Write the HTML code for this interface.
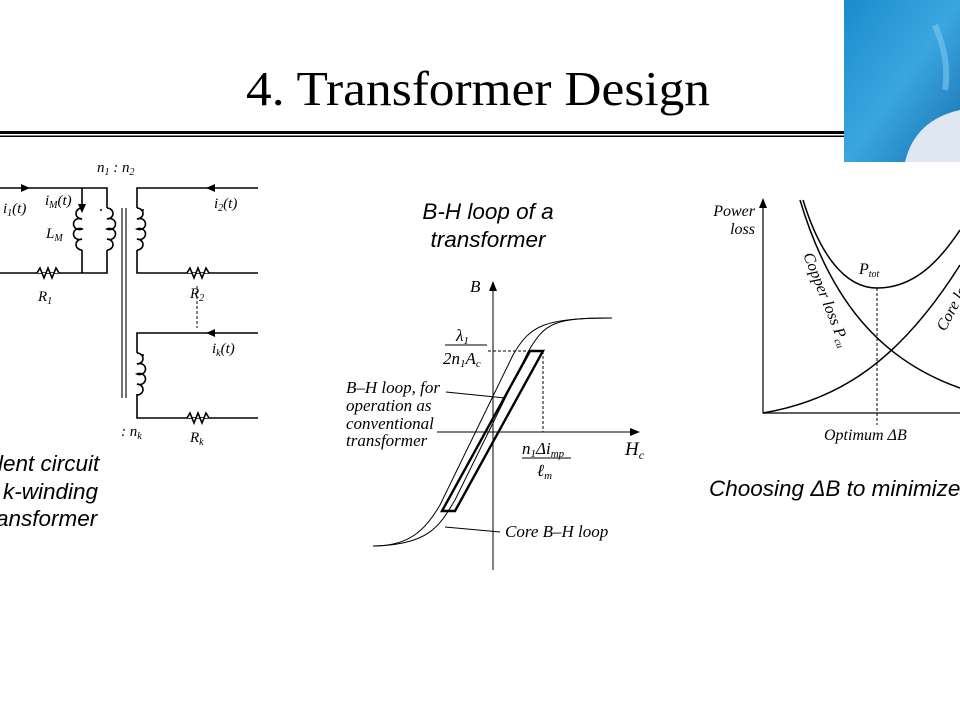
<!DOCTYPE html>
<html><head><meta charset="utf-8"><style>
html,body{margin:0;padding:0;background:#fff;width:960px;height:720px;overflow:hidden}
svg{display:block}
.s{font-family:"Liberation Serif",serif;font-style:italic}
.a{font-family:"Liberation Sans",sans-serif;font-style:italic}
</style></head><body>
<svg width="960" height="720" viewBox="0 0 960 720" xmlns="http://www.w3.org/2000/svg">
<defs>
<linearGradient id="bg" x1="0" y1="0" x2="1" y2="1"><stop offset="0" stop-color="#1a8ccc"/><stop offset="0.5" stop-color="#3aa6e0"/><stop offset="1" stop-color="#1870b0"/></linearGradient>
</defs>
<text x="246" y="105" textLength="464" lengthAdjust="spacingAndGlyphs" font-family="Liberation Serif,serif" font-size="49">4. Transformer Design</text>
<rect x="0" y="131" width="846" height="3" fill="#000"/>
<rect x="0" y="135.5" width="846" height="1.5" fill="#000"/>
<rect x="844" y="0" width="116" height="162" fill="url(#bg)"/>
<path d="M905 162 Q915 120 960 110 L960 162Z" fill="#dfe8f2"/>
<path d="M935 25 Q950 60 945 90" stroke="#7cc8f0" stroke-width="6" fill="none" opacity=".6"/>

<g stroke="#000" stroke-width="1.6" fill="none">
<path d="M0 188 H107 V208 M107 250 V273 H0"/>
<path d="M82 188 V208 M82 250 V273"/>
<path d="M82 208 a6 5.5 0 1 0 0 11 a6 5.5 0 1 0 0 10 a6 5.5 0 1 0 0 10 a6 5.5 0 1 0 0 11"/>
<path d="M107 208 a6 5.5 0 1 1 0 11 a6 5.5 0 1 1 0 10 a6 5.5 0 1 1 0 10 a6 5.5 0 1 1 0 11"/>
<path d="M137 208 a6 5.5 0 1 1 0 11 a6 5.5 0 1 1 0 10 a6 5.5 0 1 1 0 10 a6 5.5 0 1 1 0 11"/>
<path d="M137 353 a6 5.5 0 1 1 0 11 a6 5.5 0 1 1 0 10 a6 5.5 0 1 1 0 10 a6 5.5 0 1 1 0 11"/>
<path d="M122 208 V398 M126 208 V398" stroke-width="1.1"/>
<path d="M137 208 V188 H258 M137 250 V273 H258"/>
<path d="M137 353 V333 H258 M137 394 V418 H258"/>
<path d="M197 286 V328" stroke-dasharray="3,2" stroke-width="1"/>
</g>
<g fill="#fff" stroke="#000" stroke-width="1.6">
<path d="M37 273 l3 -5 l4 10 l4 -10 l4 10 l4 -10 l3 5"/>
<path d="M187 273 l3 -5 l4 10 l4 -10 l4 10 l4 -10 l3 5"/>
<path d="M187 418 l3 -5 l4 10 l4 -10 l4 10 l4 -10 l3 5"/>
</g>
<g fill="#000">
<path d="M30 188 l-9 -4 v8z"/>
<path d="M82 213 l-4 -9 h8z"/>
<path d="M206 188 l9 -4 v8z"/>
<path d="M206 333 l9 -4 v8z"/>
<circle cx="101" cy="210" r="1"/><circle cx="143" cy="210" r="1"/><circle cx="143" cy="355" r="1"/>
</g>
<g class="s" font-size="15">
<text x="3" y="213">i<tspan font-size="10" dy="3">1</tspan><tspan dy="-3">(t)</tspan></text>
<text x="45" y="205">i<tspan font-size="10" dy="3">M</tspan><tspan dy="-3">(t)</tspan></text>
<text x="46" y="238">L<tspan font-size="10" dy="3">M</tspan></text>
<text x="38" y="301">R<tspan font-size="10" dy="3">1</tspan></text>
<text x="97" y="172">n<tspan font-size="10" dy="3">1</tspan><tspan dy="-3">  :  n</tspan><tspan font-size="10" dy="3">2</tspan></text>
<text x="214" y="208">i<tspan font-size="10" dy="3">2</tspan><tspan dy="-3">(t)</tspan></text>
<text x="190" y="298">R<tspan font-size="10" dy="3">2</tspan></text>
<text x="212" y="353">i<tspan font-size="10" dy="3">k</tspan><tspan dy="-3">(t)</tspan></text>
<text x="121" y="436">:  n<tspan font-size="10" dy="3">k</tspan></text>
<text x="190" y="442">R<tspan font-size="10" dy="3">k</tspan></text>
</g>
<g class="a" font-size="22.5">
<text x="-2" y="471">lent circuit</text>
<text x="3" y="499">k-winding</text>
<text x="-4" y="526">ansformer</text>
<text x="488" y="219" text-anchor="middle">B-H loop of a</text>
<text x="488" y="247" text-anchor="middle">transformer</text>
<text x="709" y="496">Choosing ΔB to minimize</text>
</g>

<g stroke="#000" fill="none" stroke-width="1">
<path d="M493 570 V286 M437 432 H636"/>
<path d="M373 546 C430 545 440 525 455 500 L528 352 C545 322 555 318 612 318"/>
<path d="M373 546 C410 546 425 530 440 505 L513 355 C530 325 545 318 612 318"/>
<path d="M442 511 L455 511 L543 351 L530 351 Z" stroke-width="2.4"/>
<path d="M488 351 H543 V432" stroke-dasharray="3,2"/>
<path d="M446 392 L505 398 M445 527 L500 532"/>
<path d="M445 345 H487 M522 458 H571"/>
</g>
<path d="M493 281 l-4 10 h8z M640 432 l-10 -4 v8z" fill="#000"/>
<g class="s" font-size="17">
<text x="470" y="292">B</text>
<text x="625" y="455" font-size="19">H<tspan font-size="12" dy="4">c</tspan></text>
<text x="456" y="341">λ<tspan font-size="11" dy="3">1</tspan></text>
<text x="443" y="364">2n<tspan font-size="11" dy="3">1</tspan><tspan dy="-3">A</tspan><tspan font-size="11" dy="3">c</tspan></text>
<text x="522" y="454">n<tspan font-size="11" dy="3">1</tspan><tspan dy="-3">Δi</tspan><tspan font-size="11" dy="3">mp</tspan></text>
<text x="537" y="476">ℓ<tspan font-size="11" dy="3">m</tspan></text>
<text x="346" y="393">B–H loop, for</text>
<text x="346" y="411">operation as</text>
<text x="346" y="429">conventional</text>
<text x="346" y="446">transformer</text>
<text x="505" y="537">Core B–H loop</text>
</g>

<g stroke="#000" fill="none" stroke-width="1.2">
<path d="M763 204 V413 H960"/>
<path d="M803 200 C820 255 845 288 877 288 C915 288 940 260 960 230" stroke-width="1.5"/>
<path d="M800 200 C830 300 880 360 960 388" stroke-width="1.5"/>
<path d="M763 413 C840 400 900 360 960 265" stroke-width="1.5"/>
<path d="M877 288 V425" stroke-dasharray="3,2" stroke-width="1"/>
</g>
<path d="M763 198 l-4 10 h8z" fill="#000"/>
<g class="s" font-size="16">
<text x="755" y="216" text-anchor="end">Power</text>
<text x="755" y="234" text-anchor="end">loss</text>
<text x="859" y="274">P<tspan font-size="10" dy="3">tot</tspan></text>
<text x="824" y="440">Optimum ΔB</text>
<text transform="translate(803,255) rotate(68)">Copper loss P<tspan font-size="10" dy="3">cu</tspan></text>
<text transform="translate(945,332) rotate(-62)">Core loss</text>
</g>
</svg>
</body></html>
